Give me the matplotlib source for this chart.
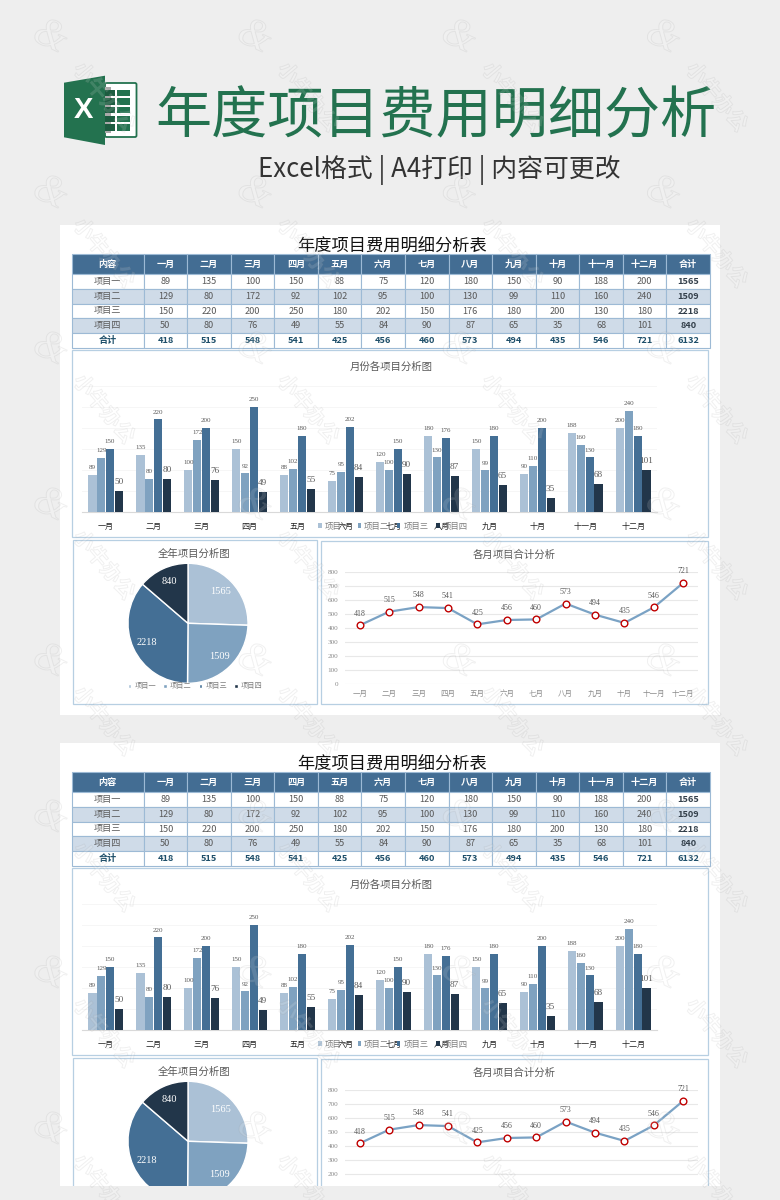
"""Annual project cost sheet, drawn twice on a grey poster."""

import matplotlib
matplotlib.use("Agg")

import matplotlib.patheffects as pe
import matplotlib.pyplot as plt
import numpy as np
from matplotlib.patches import FancyBboxPatch, Polygon, Rectangle

plt.rcParams["font.family"] = ["Noto Sans CJK SC", "DejaVu Sans"]

W, H = 780, 1200
SERIF = ["Liberation Serif", "Noto Sans CJK SC"]

MONTHS = ["一月", "二月", "三月", "四月", "五月", "六月", "七月", "八月", "九月", "十月", "十一月", "十二月"]
PROJECTS = ["项目一", "项目二", "项目三", "项目四"]
P1 = [89, 135, 100, 150, 88, 75, 120, 180, 150, 90, 188, 200]
P2 = [129, 80, 172, 92, 102, 95, 100, 130, 99, 110, 160, 240]
P3 = [150, 220, 200, 250, 180, 202, 150, 176, 180, 200, 130, 180]
P4 = [50, 80, 76, 49, 55, 84, 90, 87, 65, 35, 68, 101]
MONTH_TOTALS = [418, 515, 548, 541, 425, 456, 460, 573, 494, 435, 546, 721]
PROJECT_TOTALS = [1565, 1509, 2218, 840]
GRAND_TOTAL = 6132

COLORS = ["#abc1d6", "#7fa2c0", "#446f95", "#22364a"]
BOX = "#b7cfe2"
GREEN = "#23724f"
BG = "#eeeeee"


def axes_px(fig, x0, y0, x1, y1, zorder=1):
    """Axes placed by pixel box, y measured from the top of the image."""
    ax = fig.add_axes([x0 / W, 1 - y1 / H, (x1 - x0) / W, (y1 - y0) / H], zorder=zorder)
    ax.patch.set_alpha(0)
    return ax


def draw_table(fig, dy):
    ax = axes_px(fig, 72, 254 + dy, 710, 348 + dy)
    ax.axis("off")
    header = ["内容"] + MONTHS + ["合计"]
    rows = [header]
    for name, vals, total in zip(PROJECTS, [P1, P2, P3, P4], PROJECT_TOTALS):
        rows.append([name] + [str(v) for v in vals] + [str(total)])
    rows.append(["合计"] + [str(v) for v in MONTH_TOTALS] + [str(GRAND_TOTAL)])

    widths = [71.5 / 638] + [43.5 / 638] * 13
    table = ax.table(cellText=rows, colWidths=widths, cellLoc="center", bbox=[0, 0, 1, 1])
    table.auto_set_font_size(False)
    for (r, c), cell in table.get_celld().items():
        cell.set_edgecolor("#9dbad5")
        cell.set_linewidth(0.8)
        cell.set_height(20 if r == 0 else 14.8)
        text = cell.get_text()
        text.set_fontsize(6.6)
        text.set_color("#595959")
        if r == 0:
            cell.set_facecolor("#436d93")
            text.set_color("white")
            text.set_fontweight("bold")
        elif r in (2, 4):
            cell.set_facecolor("#cfdbe8")
        else:
            cell.set_facecolor("white")
        if r == 5:
            text.set_color("#1d4e69")
            text.set_fontweight("bold")
        elif r > 0 and c == 13:
            text.set_color("#333f4a")
            text.set_fontweight("bold")


def draw_bars(fig, dy):
    ax = axes_px(fig, 81.7, 385.6 + dy, 657.3, 512.3 + dy)
    x = np.arange(len(MONTHS))
    groups = []
    for i, (vals, color) in enumerate(zip([P1, P2, P3, P4], COLORS)):
        bars = ax.bar(x + (i - 1.5) * 0.183, vals, 0.168, color=color, label=PROJECTS[i], zorder=3)
        size = 6.6 if i == 3 else 5
        ax.bar_label(bars, padding=3.5, fontsize=size, color="#595959", family=SERIF, zorder=4)
        groups.append(bars)
    ax.set_xlim(-0.5, 11.5)
    ax.set_ylim(0, 300)
    ax.set_yticks(np.arange(0, 301, 50))
    ax.set_yticklabels([])
    ax.set_xticks(x, MONTHS)
    ax.tick_params(length=0)
    ax.tick_params(axis="x", pad=7, labelsize=5.8, labelcolor="#222222")
    for lab in ax.get_xticklabels():
        lab.set_fontweight("medium")
    ax.grid(axis="y", color="#f6f6f6", linewidth=0.7, zorder=0)
    for side in ["top", "left", "right"]:
        ax.spines[side].set_visible(False)
    ax.spines["bottom"].set_color("#d9d9d9")
    ax.legend(handles=groups, ncol=4, loc="center", bbox_to_anchor=(0.541, -0.108), frameon=False,
              fontsize=6, labelcolor="#7f7f7f", handlelength=0.4, handleheight=0.4, handletextpad=0.35,
              columnspacing=0.95, borderpad=0)


def draw_pie(fig, dy):
    ax = axes_px(fig, 128, 563.3 + dy, 248, 683.3 + dy)
    total = sum(PROJECT_TOTALS)
    wedges, _, autotexts = ax.pie(
        PROJECT_TOTALS, colors=COLORS, startangle=90, counterclock=False,
        autopct=lambda p: f"{p * total / 100:.0f}", pctdistance=0.76,
        wedgeprops={"edgecolor": "white", "linewidth": 1.0},
        textprops={"color": "white", "fontsize": 7.5, "family": SERIF},
    )
    ax.set_xlim(-1, 1)
    ax.set_ylim(-1, 1)
    ax.legend(wedges, PROJECTS, ncol=4, loc="center", bbox_to_anchor=(0.56, -0.025), frameon=False,
              fontsize=5.2, labelcolor="#7f7f7f", handlelength=0.5, handleheight=0.5, handletextpad=0.4,
              columnspacing=1.0, borderpad=0)


def draw_line(fig, dy):
    ax = axes_px(fig, 345, 571.7 + dy, 698, 684 + dy)
    x = np.arange(len(MONTHS))
    ax.plot(x, MONTH_TOTALS, color="#7aa2c4", linewidth=1.6, marker="o", markersize=4.8,
            markerfacecolor="white", markeredgecolor="#c00000", markeredgewidth=1.0, clip_on=False, zorder=3)
    for xi, v in zip(x, MONTH_TOTALS):
        ax.annotate(str(v), (xi, v), xytext=(0, 8.4), textcoords="offset points", ha="center", va="center",
                    fontsize=5.7, color="#595959", family=SERIF, annotation_clip=False)
    ax.set_xlim(-0.5, 11.5)
    ax.set_ylim(0, 800)
    ax.set_yticks(np.arange(0, 801, 100))
    ax.set_xticks(x, MONTHS)
    ax.tick_params(length=0, labelcolor="#8c8c8c")
    ax.tick_params(axis="x", pad=4, labelsize=5.4)
    ax.tick_params(axis="y", pad=5)
    for lab in ax.get_yticklabels():
        lab.set_fontsize(5.2)
        lab.set_family(SERIF)
    ax.grid(axis="y", color="#e8e8e8", linewidth=0.8, zorder=0)
    for side in ax.spines:
        ax.spines[side].set_visible(False)


def draw_sheet(fig, back, dy):
    back.text(392, 246.5 + dy, "年度项目费用明细分析表", ha="center", va="center", fontsize=12.4, color="#111111")
    for x0, y0, x1, y1 in [(72, 350, 708, 537), (72.5, 540, 316.5, 704), (321, 540.5, 707.5, 704)]:
        back.add_patch(Rectangle((x0, y0 + dy), x1 - x0, y1 - y0, facecolor="white", edgecolor=BOX, linewidth=0.9))
    back.text(391, 366.5 + dy, "月份各项目分析图", ha="center", va="center", fontsize=7.5, color="#595959")
    back.text(194, 553.5 + dy, "全年项目分析图", ha="center", va="center", fontsize=7.5, color="#595959")
    back.text(514.5, 554.5 + dy, "各月项目合计分析", ha="center", va="center", fontsize=7.5, color="#595959")
    draw_table(fig, dy)
    draw_bars(fig, dy)
    draw_pie(fig, dy)
    draw_line(fig, dy)


def draw_logo(ax):
    ax.add_patch(FancyBboxPatch((105, 83), 31.5, 54, boxstyle="round,pad=0,rounding_size=1.5",
                                facecolor="white", edgecolor=GREEN, linewidth=1.3))
    ax.add_patch(Rectangle((105, 87), 6, 46, facecolor="#a9a9a9"))
    for row in range(5):
        y = 89.5 + row * 8.7
        ax.add_patch(Rectangle((105, y), 10, 6.5, facecolor="#1c5c40"))
        ax.add_patch(Rectangle((116.5, y), 13, 6.5, facecolor=GREEN))
    ax.add_patch(Polygon([(64, 82.7), (105, 75.7), (105, 145), (64, 137.3)], facecolor=GREEN, edgecolor="none"))
    ax.text(83, 110.5, "X", ha="center", va="center", fontsize=21, fontweight="bold", color="white",
            family=["Liberation Sans"])


def draw_watermark(ax):
    stroke = [pe.Stroke(linewidth=0.7, foreground="#8f8f8f", alpha=0.13)]
    for col in range(4):
        for row in range(8):
            x = 50 + col * 204.2
            y = 37 + row * 156
            ax.text(x, y, "&", ha="center", va="center", fontsize=30, rotation=-25, style="italic",
                    family=SERIF, color="white", alpha=0.2, path_effects=stroke, clip_on=True)
            ax.text(x + 54, y + 60, "小牛办公", ha="center", va="center", fontsize=15, rotation=-50,
                    rotation_mode="anchor", fontweight="bold", color="white", alpha=0.2,
                    path_effects=stroke, clip_on=True)


fig = plt.figure(figsize=(W / 100, H / 100), dpi=100, facecolor=BG)

back = axes_px(fig, 0, 0, W, H, zorder=0)
back.set_xlim(0, W)
back.set_ylim(H, 0)
back.axis("off")
back.add_patch(Rectangle((60, 225), 660, 490, facecolor="white", edgecolor="none"))
back.add_patch(Rectangle((60, 743), 660, 443, facecolor="white", edgecolor="none"))
draw_logo(back)
back.text(435.5, 118, "年度项目费用明细分析", ha="center", va="center", fontsize=40.4, fontweight="medium", color=GREEN)
back.text(439.5, 170, "Excel格式 | A4打印 | 内容可更改", ha="center", va="center", fontsize=18.6, color="#333333")

draw_sheet(fig, back, 0)
draw_sheet(fig, back, 518)

cover = axes_px(fig, 0, 0, W, H, zorder=5)
cover.set_xlim(0, W)
cover.set_ylim(H, 0)
cover.axis("off")
cover.add_patch(Rectangle((0, 1186), W, 14, facecolor=BG, edgecolor="none"))
draw_watermark(cover)

fig.savefig("out.png", dpi=100, facecolor=BG)
plt.close(fig)
